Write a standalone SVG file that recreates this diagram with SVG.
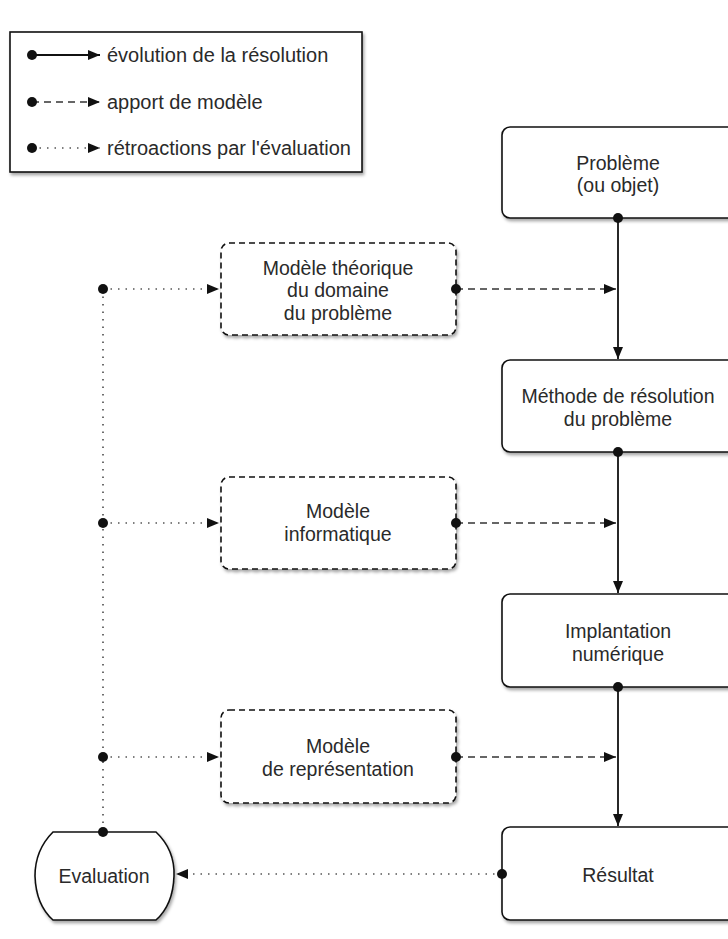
<svg xmlns="http://www.w3.org/2000/svg" width="728" height="939" viewBox="0 0 728 939">
<defs>
<filter id="sh" x="-10%" y="-10%" width="130%" height="130%">
<feDropShadow dx="1.5" dy="2.5" stdDeviation="1.5" flood-color="#000" flood-opacity="0.35"/>
</filter>
<marker id="ah" viewBox="0 0 12 10" refX="12" refY="5" markerWidth="12" markerHeight="10" markerUnits="userSpaceOnUse" orient="auto">
<path d="M0,0 L12,5 L0,10 Z" fill="#111"/>
</marker>
<marker id="dot" viewBox="0 0 12 12" refX="6" refY="6" markerWidth="12" markerHeight="12" markerUnits="userSpaceOnUse">
<circle cx="6" cy="6" r="5" fill="#111"/>
</marker>
</defs>
<style>
text{font-family:"Liberation Sans",Arial,sans-serif;font-size:19.5px;fill:#2a2a2a;text-anchor:middle}
.lg{text-anchor:start;font-size:20px}
.box{fill:#fff;stroke:#111;stroke-width:1.6;filter:url(#sh)}
.dbox{fill:#fff;stroke:#111;stroke-width:1.6;stroke-dasharray:6,4;filter:url(#sh)}
.solid{fill:none;stroke:#111;stroke-width:1.8;marker-start:url(#dot);marker-end:url(#ah)}
.dash{fill:none;stroke:#666;stroke-width:2.2;stroke-dasharray:7,5;marker-start:url(#dot);marker-end:url(#ah)}
.dott{fill:none;stroke:#555;stroke-width:1.7;stroke-dasharray:1.5,6;marker-start:url(#dot);marker-end:url(#ah)}
.dotline{fill:none;stroke:#555;stroke-width:1.7;stroke-dasharray:1.5,6}
</style>

<g id="legend">
<rect x="10" y="32" width="352" height="140" class="box"/>
<path class="solid" d="M32,55 H100"/>
<text class="lg" x="107" y="62">évolution de la résolution</text>
<path class="dash" d="M32,102 H100"/>
<text class="lg" x="107" y="109">apport de modèle</text>
<path class="dott" d="M32,148 H100"/>
<text class="lg" x="107" y="155">rétroactions par l'évaluation</text>
</g>

<g id="probleme">
<rect x="502" y="127" width="240" height="91" rx="8" class="box"/>
<text x="618" y="170">Problème</text>
<text x="618" y="192">(ou objet)</text>
</g>
<g id="methode">
<rect x="502" y="360" width="240" height="92" rx="8" class="box"/>
<text x="618" y="403">Méthode de résolution</text>
<text x="618" y="426">du problème</text>
</g>
<g id="implantation">
<rect x="502" y="594" width="240" height="93" rx="8" class="box"/>
<text x="618" y="638">Implantation</text>
<text x="618" y="661">numérique</text>
</g>
<g id="resultat">
<rect x="502" y="827" width="240" height="93" rx="8" class="box"/>
<text x="618" y="882">Résultat</text>
</g>

<g id="modele-theorique">
<rect x="221" y="243" width="235" height="92" rx="8" class="dbox"/>
<text x="338" y="275">Modèle théorique</text>
<text x="338" y="297">du domaine</text>
<text x="338" y="320">du problème</text>
</g>
<g id="modele-informatique">
<rect x="221" y="477" width="235" height="92" rx="8" class="dbox"/>
<text x="338" y="518">Modèle</text>
<text x="338" y="541">informatique</text>
</g>
<g id="modele-representation">
<rect x="221" y="710" width="235" height="93" rx="8" class="dbox"/>
<text x="338" y="753">Modèle</text>
<text x="338" y="776">de représentation</text>
</g>

<g id="evaluation">
<path class="box" d="M53,832 H156 Q175,850 174,876 Q173,905 156,920 H53 Q36,905 35,876 Q35,850 53,832 Z"/>
<text x="104" y="883">Evaluation</text>
</g>

<g id="connectors">
<path class="solid" d="M618,218 V359"/>
<path class="solid" d="M618,452 V593"/>
<path class="solid" d="M618,687 V826"/>
<path class="dash" d="M456,289 H616"/>
<path class="dash" d="M456,523 H616"/>
<path class="dash" d="M456,757 H616"/>
<path class="dotline" d="M103,289 V832"/>
<path class="dott" d="M103,289 H219"/>
<path class="dott" d="M103,523 H219"/>
<path class="dott" d="M103,757 H219"/>
<circle cx="103" cy="832" r="5" fill="#111"/>
<path class="dott" d="M502,874 H176"/>
</g>
</svg>
